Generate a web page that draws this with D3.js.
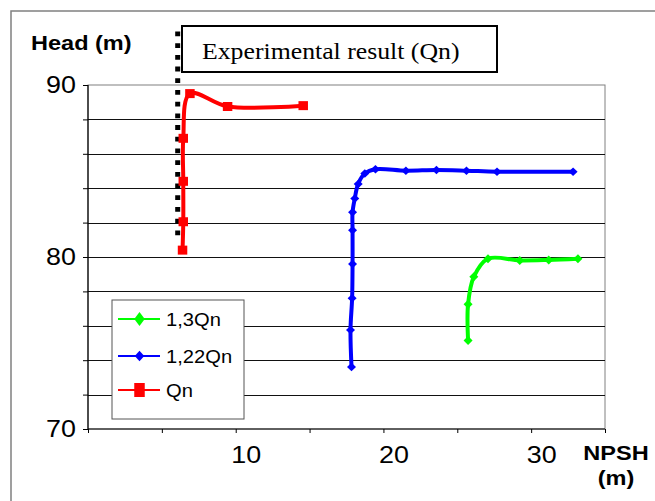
<!DOCTYPE html>
<html>
<head>
<meta charset="utf-8">
<script src="https://cdn.jsdelivr.net/npm/d3@7"></script>
<style>
  body { margin: 0; background: #fff; }
  text { font-family: "Liberation Sans", Arial, sans-serif; }
  text.serif { font-family: "Liberation Serif", "Times New Roman", serif; }
</style>
</head>
<body>
<script>
// values
const qnNpsh = [6.40, 6.45, 6.45, 6.45, 6.90, 9.45, 14.57];
const qnHead = [80.4, 82.05, 84.4, 86.9, 89.5, 88.75, 88.8];

const q122Npsh = [17.84, 17.77, 17.88, 17.91, 17.91, 17.91, 18.06, 18.29, 18.74, 19.46, 21.52, 23.59, 25.62, 27.69, 32.84];
const q122Head = [73.6, 75.75, 77.6, 79.6, 81.55, 82.6, 83.4, 84.25, 84.85, 85.1, 85.02, 85.06, 85.02, 84.96, 84.96];

const q13Npsh = [25.73, 25.73, 26.12, 27.08, 29.23, 31.19, 33.17];
const q13Head = [75.15, 77.25, 78.85, 79.9, 79.8, 79.83, 79.9];

const seriesNames = ["1,3Qn", "1,22Qn", "Qn"];
const xTickLabels = [10, 20, 30];
const yTickLabels = [70, 80, 90];

const W = 655, H = 501;
const svg = d3.select("body").append("svg").attr("width", W).attr("height", H);

// outer chart frame (cut off at right / bottom like in the picture)
svg.append("rect")
  .attr("x", 11).attr("y", 11).attr("width", 700).attr("height", 600)
  .attr("fill", "#fff").attr("stroke", "#808080").attr("stroke-width", 1.5);

let x = d3.scaleLinear().domain([0, 35]).range([88, 605]);
let y = d3.scaleLinear().domain([70, 90]).range([429, 85]);

// plot area border
svg.append("rect")
  .attr("x", x(0)).attr("y", y(90))
  .attr("width", x(35) - x(0)).attr("height", y(70) - y(90))
  .attr("fill", "#fff").attr("stroke", "#808080").attr("stroke-width", 1);

// gridlines
svg.append("g")
  .selectAll("line")
  .data(d3.range(72, 90, 2))
  .enter()
  .append("line")
  .attr("x1", x(0)).attr("x2", x(35))
  .attr("y1", d => Math.round(y(d)) + 0.5).attr("y2", d => Math.round(y(d)) + 0.5)
  .attr("stroke", "#111").attr("stroke-width", 1);

// axes
let yAxis = d3.axisLeft(y)
  .tickValues(d3.range(70, 91, 2))
  .tickSize(5).tickPadding(7)
  .tickFormat(d => yTickLabels.includes(d) ? d : "");
let gy = svg.append("g").attr("transform", `translate(${x(0)},0)`).call(yAxis);

let xAxis = d3.axisBottom(x)
  .tickValues(d3.range(0, 36, 5))
  .tickSize(4).tickPadding(13)
  .tickFormat(d => xTickLabels.includes(d) ? d : "");
let gx = svg.append("g").attr("transform", `translate(0,${y(70)})`).call(xAxis);

[gx, gy].forEach(g => {
  g.select(".domain").attr("stroke", "#000").attr("stroke-width", 1.2);
  g.selectAll(".tick line").attr("stroke", "#000");
  g.selectAll(".tick text").attr("font-size", 24).attr("fill", "#000");
});
gx.selectAll(".tick text").attr("dx", 10);
gx.select(".domain").attr("d", `M${x(0)},0H${x(35)}`);
gy.select(".domain").attr("d", `M0,${y(70)}V${y(90)}`);

// dotted vertical line
svg.append("line")
  .attr("x1", 177.7).attr("x2", 177.7)
  .attr("y1", 31.5).attr("y2", 237)
  .attr("stroke", "#000").attr("stroke-width", 5)
  .attr("stroke-dasharray", "4.8,6.9");

// title box
svg.append("rect")
  .attr("x", 182).attr("y", 26).attr("width", 315).attr("height", 46)
  .attr("fill", "#fff").attr("stroke", "#000").attr("stroke-width", 2);
svg.append("text")
  .attr("class", "serif")
  .attr("x", 202).attr("y", 59)
  .attr("font-size", 23)
  .text("Experimental result (Qn)");

// axis titles
svg.append("text").attr("x", 31).attr("y", 50)
  .attr("font-size", 21).attr("font-weight", "bold")
  .text("Head (m)");
svg.append("text").attr("x", 616).attr("y", 460)
  .attr("text-anchor", "middle")
  .attr("font-size", 21).attr("font-weight", "bold")
  .text("NPSH");
svg.append("text").attr("x", 616).attr("y", 485)
  .attr("text-anchor", "middle")
  .attr("font-size", 21).attr("font-weight", "bold")
  .text("(m)");

function diamond(w, h) {
  return `M0,${-h / 2}L${w / 2},0L0,${h / 2}L${-w / 2},0Z`;
}
function square(w, h) {
  return `M${-w / 2},${-h / 2}h${w}v${h}h${-w}Z`;
}

let series = [
  { name: seriesNames[0], color: "#00ff00", xs: q13Npsh, ys: q13Head, mark: diamond(9, 9), legMark: diamond(10.5, 14) },
  { name: seriesNames[1], color: "#0000ff", xs: q122Npsh, ys: q122Head, mark: diamond(9, 8.5), legMark: diamond(9.5, 10.5) },
  { name: seriesNames[2], color: "#ff0000", xs: qnNpsh, ys: qnHead, mark: square(9.5, 9), legMark: square(10.5, 14) }
];

let line = d3.line()
  .x(d => x(d[0]))
  .y(d => y(d[1]))
  .curve(d3.curveCatmullRom.alpha(0.5));

series.forEach(s => {
  let pts = s.xs.map((v, i) => [v, s.ys[i]]);
  let g = svg.append("g");
  g.append("path")
    .attr("d", line(pts))
    .attr("fill", "none")
    .attr("stroke", s.color)
    .attr("stroke-width", 4)
    .attr("stroke-linejoin", "round");
  g.selectAll("path.m")
    .data(pts)
    .enter()
    .append("path")
    .attr("class", "m")
    .attr("transform", d => `translate(${x(d[0])},${y(d[1])})`)
    .attr("d", s.mark)
    .attr("fill", s.color);
});

// legend
let leg = svg.append("g");
leg.append("rect")
  .attr("x", 112).attr("y", 300).attr("width", 132).attr("height", 119)
  .attr("fill", "#fff").attr("stroke", "#555").attr("stroke-width", 1);
let legY = [319, 356, 390];
series.forEach((s, i) => {
  leg.append("line")
    .attr("x1", 118).attr("x2", 160)
    .attr("y1", legY[i]).attr("y2", legY[i])
    .attr("stroke", s.color).attr("stroke-width", 1.8);
  leg.append("path")
    .attr("transform", `translate(139.5,${legY[i]})`)
    .attr("d", s.legMark)
    .attr("fill", s.color);
  leg.append("text")
    .attr("x", 166).attr("y", legY[i] + 6.5)
    .attr("font-size", 18)
    .text(s.name);
});

// the picture is slightly stretched horizontally: widen text to match
svg.selectAll("text").each(function() {
  let w = this.getComputedTextLength();
  if (w > 0) {
    this.setAttribute("textLength", (w * 1.12).toFixed(1));
    this.setAttribute("lengthAdjust", "spacingAndGlyphs");
  }
});
</script>
</body>
</html>
